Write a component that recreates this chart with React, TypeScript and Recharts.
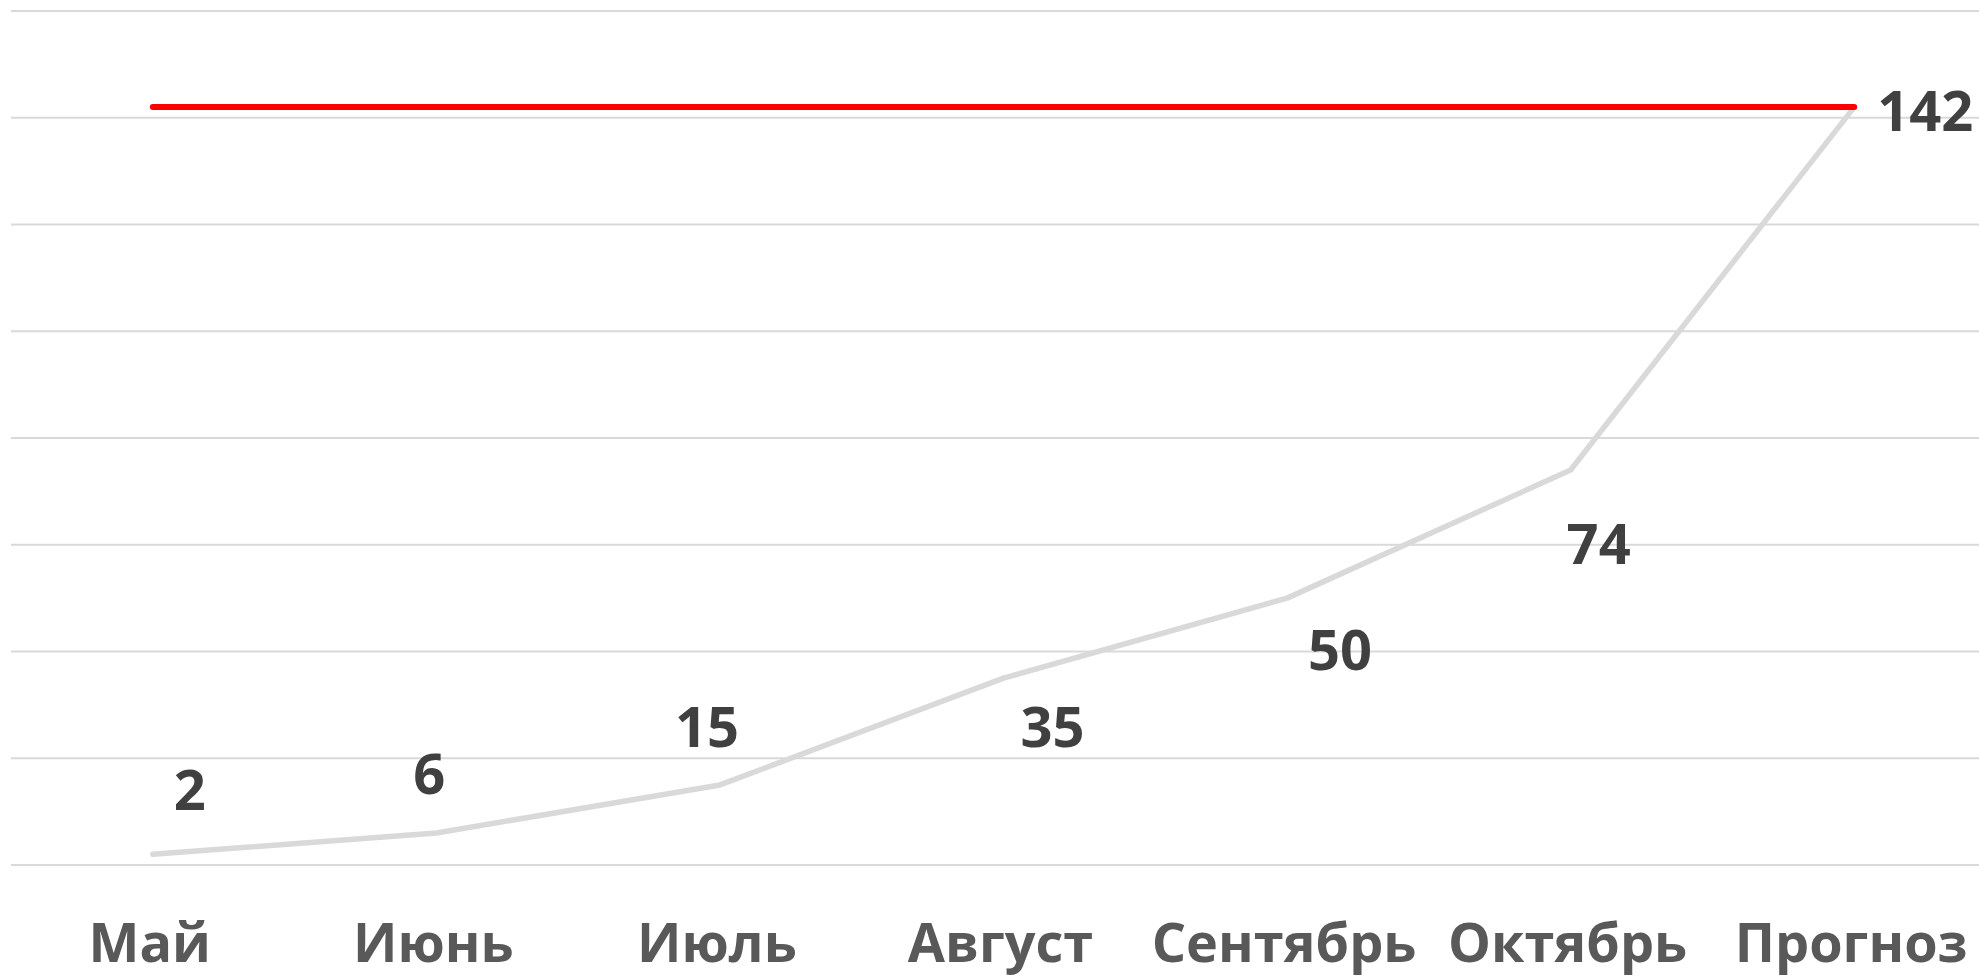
import { CartesianGrid, LabelList, Line, LineChart, XAxis, YAxis } from "recharts";

const months = ["Май", "Июнь", "Июль", "Август", "Сентябрь", "Октябрь", "Прогноз"];
const clients = [2, 6, 15, 35, 50, 74, 142];
const target = [142, 142, 142, 142, 142, 142, 142];
const yTicks = [0, 20, 40, 60, 80, 100, 120, 140, 160];

// hand-placed label offsets (dx, dy from the point), like the original
const labelShift: [number, number][] = [
  [37, -66],
  [-7, -61],
  [-13, -60],
  [49, 47],
  [53, 50],
  [28, 72],
  [71, 2],
];

const rows = months.map((m, i) => ({ month: m, clients: clients[i], target: target[i] }));

const font = "'Open Sans', 'Noto Sans', sans-serif";

function MonthTick(props: any) {
  const { x, y, payload } = props;
  return (
    <text
      x={x - 3}
      y={y + 97}
      textAnchor="middle"
      fill="#595959"
      fontFamily={font}
      fontWeight={700}
      fontSize={54}
    >
      {payload.value}
    </text>
  );
}

function ValueLabel(props: any) {
  const { x, y, value, index } = props;
  const [dx, dy] = labelShift[index] ?? [0, -40];
  return (
    <text
      x={x + dx}
      y={y + dy}
      textAnchor="middle"
      dominantBaseline="central"
      fill="#404040"
      fontFamily={font}
      fontWeight={700}
      fontSize={56}
    >
      {value}
    </text>
  );
}

export default function App() {
  return (
    <div
      style={{
        position: "fixed",
        top: 0,
        left: 0,
        width: 1979,
        height: 978,
        overflow: "hidden",
        background: "#fff",
      }}
    >
      <LineChart
        width={1996}
        height={978}
        data={rows}
        margin={{ top: 11, right: 0, bottom: 0, left: 11 }}
      >
        <CartesianGrid vertical={false} stroke="#d9d9d9" strokeWidth={2} />
        <XAxis
          dataKey="month"
          axisLine={false}
          tickLine={false}
          tickSize={0}
          tickMargin={0}
          height={113}
          interval={0}
          padding={{ left: 141.8, right: 141.8 }}
          tick={<MonthTick />}
        />
        <YAxis hide domain={[0, 160]} ticks={yTicks} />
        <Line
          dataKey="clients"
          stroke="#d9d9d9"
          strokeWidth={5.5}
          strokeLinecap="round"
          strokeLinejoin="round"
          dot={false}
          activeDot={false}
          isAnimationActive={false}
        >
          <LabelList dataKey="clients" content={<ValueLabel />} />
        </Line>
        <Line
          dataKey="target"
          stroke="#ff0000"
          strokeWidth={6}
          strokeLinecap="round"
          dot={false}
          activeDot={false}
          isAnimationActive={false}
        />
      </LineChart>
    </div>
  );
}
